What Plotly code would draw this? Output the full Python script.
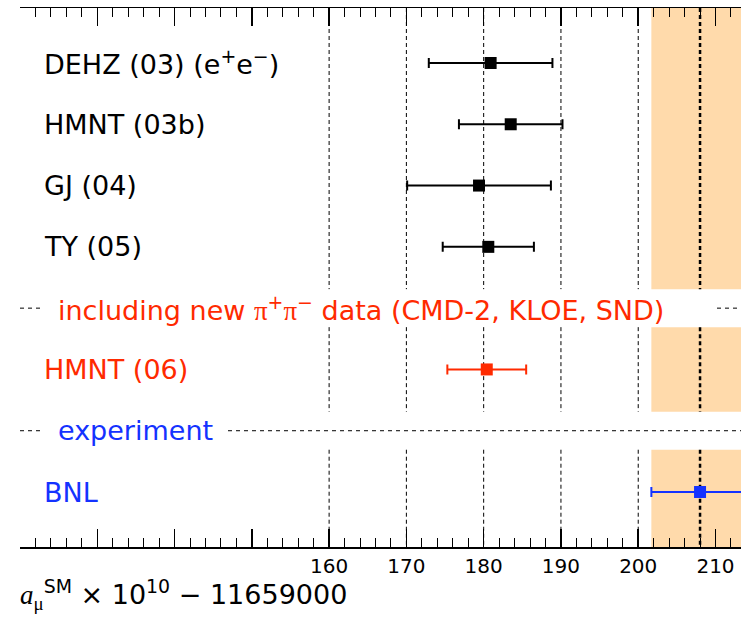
import plotly.graph_objects as go

# ---------------- data ----------------
labels = ["DEHZ (03) (e<sup>+</sup>e<sup>−</sup>)", "HMNT (03b)", "GJ (04)", "TY (05)",
          "HMNT (06)", "BNL"]
rows = [0, 1, 2, 3, 5, 7]
values = [180.9, 183.5, 179.4, 180.6, 180.4, 208.0]
errors = [8.0, 6.7, 9.3, 5.9, 5.1, 6.3]
colors = ["black", "black", "black", "black", "#ff2a00", "#1432ff"]

headers = ["including new <span style='font-family:Liberation Serif'>π</span><sup>+</sup>"
           "<span style='font-family:Liberation Serif'>π</span><sup>−</sup> data (CMD-2, KLOE, SND)",
           "experiment"]
header_rows = [4, 6]
header_colors = ["#ff2a00", "#1432ff"]

grid_vals = [160, 170, 180, 190, 200]
labeled_ticks = [160, 170, 180, 190, 200, 210]
labeled_text = ["160", "170", "180", "190", "200", "210"]
unlabeled_ticks = [120, 130, 140, 150]

bnl_value = values[-1]
bnl_error = errors[-1]

# ---------------- layout helpers ----------------
W, H = 741, 624
ML, MR, MT, MB = 20, 0, 8, 77
XR = [120, 213.3]
YR = [7.897, -0.897]
segments = [(-0.897, 3.69), (4.31, 5.69), (6.31, 7.897)]
band_color = "#ffdaab"
FONT = "DejaVu Sans"
FS = 27

fig = go.Figure()

shapes = []
for (y0, y1) in segments:
    shapes.append(dict(type="rect", xref="x", yref="y", x0=bnl_value - bnl_error,
                       x1=bnl_value + bnl_error, y0=y0, y1=y1,
                       fillcolor=band_color, line=dict(width=0), layer="below"))
for (y0, y1) in segments:
    for gv in grid_vals:
        shapes.append(dict(type="line", xref="x", yref="y", x0=gv, x1=gv, y0=y0, y1=y1,
                           line=dict(color="black", width=1, dash="4px,3px"), layer="below"))
    shapes.append(dict(type="line", xref="x", yref="y", x0=bnl_value, x1=bnl_value,
                       y0=y0, y1=y1,
                       line=dict(color="black", width=2.5, dash="4px,3px"), layer="below"))

# separator dashes (pixel positions)
pw = W - ML - MR
def px2paper(p):
    return (p - ML) / pw
sep = [(4, 20, 42), (4, 717, 741), (6, 20, 42), (6, 228, 741)]
for (r, a, b) in sep:
    shapes.append(dict(type="line", xref="paper", yref="y", x0=px2paper(a), x1=px2paper(b),
                       y0=r, y1=r, line=dict(color="black", width=1, dash="4px,4px")))

for i in range(len(values)):
    fig.add_trace(go.Scatter(
        x=[values[i]], y=[rows[i]], mode="markers",
        marker=dict(symbol="square", size=12, color=colors[i], line=dict(width=0)),
        error_x=dict(type="data", array=[errors[i]], visible=True, color=colors[i],
                     thickness=2, width=5),
        showlegend=False, hoverinfo="skip"))

# invisible trace to anchor the secondary (tick-only) axis
fig.add_trace(go.Scatter(x=[None], y=[None], xaxis="x2", mode="markers",
                         showlegend=False, hoverinfo="skip"))

annotations = []
for i in range(len(labels)):
    annotations.append(dict(x=px2paper(42), xref="paper", y=rows[i], yref="y",
                            text=labels[i], showarrow=False, xanchor="left",
                            yanchor="middle",
                            font=dict(family=FONT, size=FS, color=colors[i])))
for i in range(len(headers)):
    annotations.append(dict(x=px2paper(56), xref="paper", y=header_rows[i], yref="y",
                            text=headers[i], showarrow=False, xanchor="left",
                            yanchor="middle",
                            font=dict(family=FONT, size=FS, color=header_colors[i])))
annotations.append(dict(
    x=px2paper(18), xref="paper", y=-0.088, yref="paper", xanchor="left", yanchor="middle",
    showarrow=False,
    text="<span style='font-family:Liberation Serif'><i>a</i></span>"
         "<sub><span style='font-family:Liberation Serif'>μ</span></sub><sup>SM</sup>"
         " × 10<sup>10</sup> − 11659000",
    font=dict(family=FONT, size=27, color="black")))

tick_common = dict(range=XR, showgrid=False, zeroline=False,
                   ticks="inside", ticklen=18, tickwidth=1.5, tickcolor="black")

fig.update_layout(
    width=W, height=H, margin=dict(l=ML, r=MR, t=MT, b=MB),
    paper_bgcolor="white", plot_bgcolor="white",
    shapes=shapes, annotations=annotations,
    xaxis=dict(**tick_common, showline=True, linecolor="black", linewidth=1.5,
               mirror="allticks", automargin=False,
               tickmode="array", tickvals=labeled_ticks, ticktext=labeled_text,
               tickfont=dict(family=FONT, size=20, color="black"),
               minor=dict(tickmode="linear", tick0=120, dtick=2, ticks="inside",
                          ticklen=9, tickwidth=1, tickcolor="black", showgrid=False)),
    xaxis2=dict(**tick_common, overlaying="x", anchor="y", side="bottom",
                showline=False, mirror="allticks", showticklabels=False,
                tickmode="array", tickvals=unlabeled_ticks, automargin=False),
    yaxis=dict(range=YR, visible=False, showgrid=False, zeroline=False),
)

fig.write_html(
    "out.html",
    config={"displayModeBar": False, "staticPlot": True},
    post_script="document.body.style.margin='0';"
                "document.body.style.overflow='hidden';"
                "document.documentElement.style.overflow='hidden';")
